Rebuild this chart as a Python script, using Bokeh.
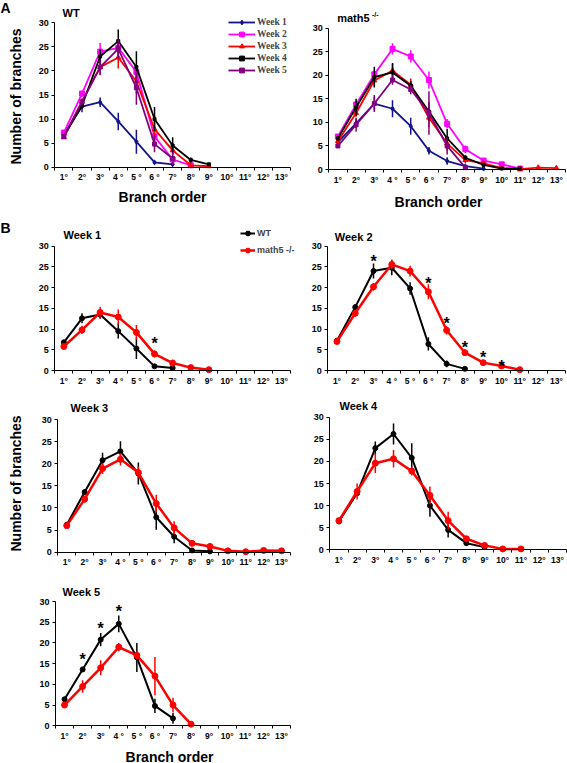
import math
from bokeh.plotting import figure
from bokeh.models import Range1d, FixedTicker, Label, Legend, LegendItem, ColumnDataSource
from bokeh.layouts import column, row
from bokeh.embed import file_html
from bokeh.resources import INLINE

# ---------------- data ----------------
orders = list(range(1, 14))
order_labels = ["1°", "2°", "3°", "4 °", "5 °", "6 °", "7°", "8°", "9°", "10°", "11°", "12°", "13°"]
y_ticks = [0, 5, 10, 15, 20, 25, 30]

wt_w1 = [6.8, 12.6, 13.5, 9.5, 5.3, 1.0, 0.6]
wt_w1_err = [0.3, 1.2, 1.0, 1.8, 2.5, 0.3, 0.2]
m5_w1 = [5.8, 9.8, 14.0, 12.9, 9.2, 4.0, 1.8, 0.7, 0.2]
m5_w1_err = [0.3, 1.0, 1.4, 1.8, 1.8, 0.8, 0.8, 0.2, 0.1]

wt_w2 = [7.2, 15.3, 24.0, 24.8, 19.8, 6.4, 1.6, 0.4]
wt_w2_err = [0.4, 0.6, 1.8, 1.8, 1.5, 1.6, 0.8, 0.1]
m5_w2 = [7.0, 13.8, 20.2, 25.6, 24.0, 19.0, 9.7, 4.3, 1.9, 1.1, 0.2]
m5_w2_err = [0.4, 0.8, 0.9, 1.2, 1.3, 1.8, 1.0, 0.8, 0.3, 0.3, 0.1]

wt_w3 = [6.2, 13.6, 20.8, 22.8, 17.8, 7.9, 3.5, 0.4, 0.2]
wt_w3_err = [0.3, 0.6, 1.7, 2.3, 2.5, 2.8, 1.5, 0.2, 0.1]
m5_w3 = [6.0, 12.0, 18.9, 21.0, 18.0, 11.0, 5.5, 2.0, 1.3, 0.3, 0.1, 0.4, 0.3]
m5_w3_err = [0.3, 0.8, 1.2, 1.4, 1.3, 2.0, 1.5, 0.6, 0.6, 0.1, 0.1, 0.1, 0.1]

wt_w4 = [6.4, 12.8, 23.0, 26.2, 20.8, 10.0, 4.5, 1.5, 0.6]
wt_w4_err = [0.3, 0.6, 1.5, 2.4, 3.3, 2.5, 1.7, 0.5, 0.2]
m5_w4 = [6.6, 13.2, 19.6, 20.6, 17.8, 12.3, 6.6, 2.5, 1.0, 0.2, 0.2]
m5_w4_err = [0.4, 1.8, 2.2, 2.0, 1.0, 2.0, 2.0, 0.5, 0.3, 0.1, 0.1]

wt_w5 = [6.4, 13.6, 20.8, 24.6, 16.5, 4.8, 1.8]
wt_w5_err = [0.3, 0.6, 1.6, 2.0, 3.5, 1.7, 1.3]
m5_w5 = [5.0, 9.5, 14.0, 19.0, 17.0, 12.0, 5.0, 0.4]
m5_w5_err = [0.3, 1.5, 1.8, 1.0, 1.0, 4.6, 1.8, 0.1]

star_w1_x = [6]
star_w1_y = [8.8]
star_w2_x = [3, 6, 7, 8, 9, 10]
star_w2_y = [28.6, 23.2, 13.4, 7.8, 5.4, 3.2]
star_w5_x = [2, 3, 4]
star_w5_y = [18.2, 25.6, 29.8]

week_names = ["Week 1", "Week 2", "Week 3", "Week 4", "Week 5"]
week_colors = ["#14148C", "#FF00FF", "#FF0000", "#000000", "#800080"]
week_markers = ["diamond", "square", "triangle", "square", "square"]
week_msizes = [5, 5, 5, 3, 4]

FONT = "Liberation Sans"


def make_fig(W, H, L, R_end, T, B):
    """Figure whose frame fills the canvas; axes are pinned inside it so that
    the data box (x 0.5..13.5, y 0..30) lands at pixels L..R_end, T..B."""
    sx = (R_end - L) / 13.0
    x0 = 0.5 - L / sx
    sy = (B - T) / 30.0
    y1 = 30 + T / sy
    p = figure(width=W, height=H, x_range=Range1d(x0, x0 + W / sx), y_range=Range1d(y1 - H / sy, y1),
               output_backend="svg", toolbar_location=None, min_border=0)
    p.outline_line_color = None
    p.grid.visible = False
    xa, ya = p.xaxis[0], p.yaxis[0]
    xa.fixed_location = 0
    xa.bounds = (0.5, 13.5)
    ya.fixed_location = 0.5
    ya.bounds = (0, 30)
    xa.ticker = FixedTicker(ticks=orders, minor_ticks=[i + 0.5 for i in range(0, 14)])
    xa.major_label_overrides = {i: l for i, l in zip(orders, order_labels)}
    xa.major_tick_line_color = None
    xa.major_tick_in = 0
    xa.major_tick_out = 3
    xa.minor_tick_in = 0
    xa.minor_tick_out = 3
    xa.minor_tick_line_color = "black"
    ya.ticker = FixedTicker(ticks=y_ticks, minor_ticks=[])
    ya.major_tick_in = 0
    ya.major_tick_out = 3
    ya.minor_tick_line_color = None
    for ax in (xa, ya):
        ax.axis_line_color = "black"
        ax.major_label_text_font = FONT
        ax.major_label_text_font_style = "bold"
        ax.major_label_text_color = "black"
    xa.major_label_text_font_size = "8.5px"
    ya.major_label_text_font_size = "9px"
    xa.major_label_standoff = 2
    ya.major_label_standoff = 3
    return p


def put(p, cx, cy, text, size, angle=0.0, align="left", font=FONT):
    H = p.height
    p.add_layout(Label(x=cx, y=H - cy, x_units="screen", y_units="screen", text=text,
                       text_font=font, text_font_size=f"{size}px", text_font_style="bold",
                       text_align=align, text_baseline="middle", angle=angle, text_color="black"))


def series(p, vals, errs, color, lw, marker, msize, elw=1.5):
    xs = orders[:len(vals)]
    src = ColumnDataSource(dict(x=xs, y=vals,
                                lo=[v - e for v, e in zip(vals, errs)],
                                hi=[v + e for v, e in zip(vals, errs)]))
    p.segment(x0="x", y0="lo", x1="x", y1="hi", source=src, line_color=color, line_width=elw)
    ln = p.line("x", "y", source=src, line_color=color, line_width=lw)
    sc = p.scatter("x", "y", source=src, marker=marker, size=msize, fill_color=color, line_color=color)
    return ln, sc


def stars(p, xs, ys):
    p.text(x=xs, y=ys, text=["*"] * len(xs), text_font_size="16px", text_font_style="bold",
           text_align="center", text_baseline="alphabetic", y_offset=9, text_color="black")


wt_all = [(wt_w1, wt_w1_err), (wt_w2, wt_w2_err), (wt_w3, wt_w3_err), (wt_w4, wt_w4_err), (wt_w5, wt_w5_err)]
m5_all = [(m5_w1, m5_w1_err), (m5_w2, m5_w2_err), (m5_w3, m5_w3_err), (m5_w4, m5_w4_err), (m5_w5, m5_w5_err)]

# ---------------- Row 1: panel A (y 0..210) ----------------
H1 = 210
p_wt = make_fig(298, H1, 54.3, 290, 22.3, 166.7)
items = []
for k in range(5):
    v, e = wt_all[k]
    ln, sc = series(p_wt, v, e, week_colors[k], 1.8, week_markers[k], week_msizes[k])
    items.append(LegendItem(label=week_names[k], renderers=[ln, sc]))
leg = Legend(items=items, location=(228, H1 - 76.3), padding=0, margin=0, spacing=0,
             glyph_width=27, glyph_height=12, label_height=12, label_standoff=2,
             label_text_font="Liberation Serif", label_text_font_size="9.5px",
             label_text_font_style="bold", border_line_color=None, background_fill_alpha=0)
p_wt.add_layout(leg)
put(p_wt, 0, 7.5, "A", 14)
put(p_wt, 62, 12.5, "WT", 11)
put(p_wt, 15, 94, "Number of  branches", 14, angle=math.pi / 2, align="center")
put(p_wt, 162, 196, "Branch order", 14, align="center")

p_m5 = make_fig(269, H1, 30.3, 267, 27.7, 169)
for k in range(5):
    v, e = m5_all[k]
    series(p_m5, v, e, week_colors[k], 1.8, week_markers[k], week_msizes[k])
put(p_m5, 38.7, 17, "math5", 11)
put(p_m5, 73.5, 13.5, "-/-", 7)
put(p_m5, 140, 201, "Branch order", 14, align="center")

# ---------------- Row 2 (y 210..385) ----------------
H2 = 175
p_w1 = make_fig(308, H2, 54.3, 290, 35.7, 160)
l1, s1 = series(p_w1, wt_w1, wt_w1_err, "black", 2, "circle", 5)
l2, s2 = series(p_w1, m5_w1, m5_w1_err, "#FF0000", 2.5, "circle", 6)
stars(p_w1, star_w1_x, star_w1_y)
leg2 = Legend(items=[LegendItem(label="WT", renderers=[l1, s1]),
                     LegendItem(label="math5 -/-", renderers=[l2, s2])],
              location=(240, H2 - 46.3), padding=0, margin=0, spacing=5,
              glyph_width=15, glyph_height=12, label_height=12, label_standoff=2,
              label_text_font=FONT, label_text_font_size="9px",
              label_text_font_style="bold", border_line_color=None, background_fill_alpha=0)
p_w1.add_layout(leg2)
put(p_w1, 0, 17.5, "B", 14)
put(p_w1, 63, 24.3, "Week 1", 11)

p_w2 = make_fig(259, H2, 19.3, 257, 35.7, 160)
series(p_w2, wt_w2, wt_w2_err, "black", 2, "circle", 5)
series(p_w2, m5_w2, m5_w2_err, "#FF0000", 2.5, "circle", 6)
stars(p_w2, star_w2_x, star_w2_y)
put(p_w2, 26.3, 26.7, "Week 2", 11)

# ---------------- Row 3 (y 385..570) ----------------
p_w3 = make_fig(298, 185, 57.3, 290, 34, 166.7)
series(p_w3, wt_w3, wt_w3_err, "black", 2, "circle", 5)
series(p_w3, m5_w3, m5_w3_err, "#FF0000", 2.5, "circle", 6)
put(p_w3, 70, 22.7, "Week 3", 11)
put(p_w3, 15, 96, "Number of  branches", 14, angle=math.pi / 2, align="center")

p_w4 = make_fig(269, 185, 31.3, 268, 31.7, 164.3)
series(p_w4, wt_w4, wt_w4_err, "black", 2, "circle", 5)
series(p_w4, m5_w4, m5_w4_err, "#FF0000", 2.5, "circle", 6)
put(p_w4, 41, 20, "Week 4", 11)

# ---------------- Row 4 (y 570..763) ----------------
p_w5 = make_fig(298, 193, 55, 290, 31, 155.3)
series(p_w5, wt_w5, wt_w5_err, "black", 2, "circle", 5)
series(p_w5, m5_w5, m5_w5_err, "#FF0000", 2.5, "circle", 6)
stars(p_w5, star_w5_x, star_w5_y)
put(p_w5, 62, 21, "Week 5", 11)
put(p_w5, 169, 186, "Branch order", 14, align="center")

layout = column(row(p_wt, p_m5), row(p_w1, p_w2), row(p_w3, p_w4), row(p_w5))

open("out.html", "w").write(file_html(layout, INLINE))
